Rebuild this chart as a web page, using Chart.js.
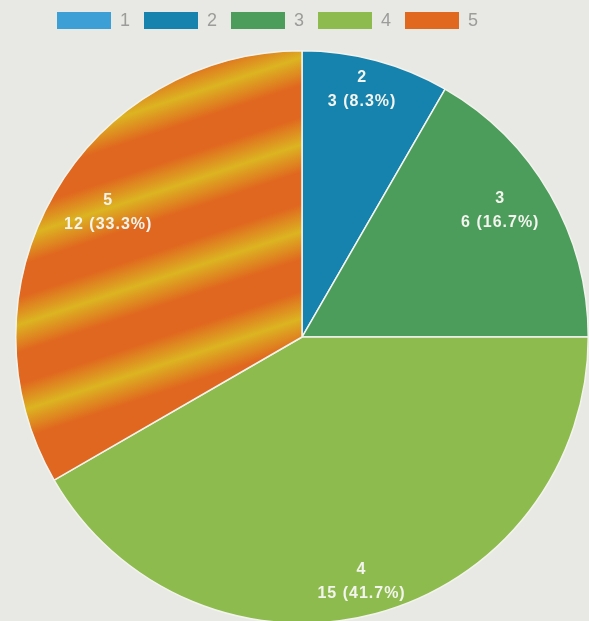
<!DOCTYPE html>
<html>
<head>
<meta charset="utf-8">
<title>Pie</title>
<script src="https://cdn.jsdelivr.net/npm/chart.js@4/dist/chart.umd.min.js"></script>
<style>
  html, body { margin: 0; padding: 0; background: #e8e8e4; overflow: hidden; }
  canvas { display: block; }
</style>
</head>
<body>
<canvas id="pie" width="589" height="630"></canvas>
<script>
const categories = ['1', '2', '3', '4', '5'];
const counts = [0, 3, 6, 15, 12];
const sliceColors = ['#3c9fd6', '#1583ae', '#4c9c5b', '#8dbb4d', '#e0691f'];

// orange slice gets soft yellow bands running up to the right
function streakFill(ctx) {
  const g = ctx.createLinearGradient(-52, 0, 155, 628);
  const n = 8, half = 0.32 / n;
  const orange = '#e0671f', yellow = '#dcb421';
  g.addColorStop(0, orange);
  for (let k = 2; k <= 5; k++) {
    const c = k / n;
    g.addColorStop(c - half, orange);
    g.addColorStop(c, yellow);
    g.addColorStop(c + half, orange);
  }
  g.addColorStop(1, orange);
  return g;
}

// two-line label inside each slice: name, then count (percent)
const sliceLabels = {
  id: 'sliceLabels',
  afterDatasetsDraw(chart) {
    const ctx = chart.ctx;
    const meta = chart.getDatasetMeta(0);
    const total = counts.reduce((a, b) => a + b, 0);
    const lineH = 24;
    ctx.save();
    ctx.font = 'bold 16px "Liberation Sans", Arial, sans-serif';
    ctx.letterSpacing = '1px';
    ctx.fillStyle = '#f4f4ef';
    ctx.textAlign = 'center';
    ctx.textBaseline = 'middle';
    meta.data.forEach((arc, i) => {
      const v = counts[i];
      if (!v) return;
      const p = arc.getProps(['x', 'y', 'startAngle', 'endAngle', 'outerRadius'], true);
      const mid = (p.startAngle + p.endAngle) / 2;
      const lines = [categories[i], v + ' (' + (v / total * 100).toFixed(1) + '%)'];
      const w = Math.max(...lines.map(t => ctx.measureText(t).width));
      const h = lineH * lines.length;
      // mid-angle direction, leaned a little toward the vertical axis
      let dx = Math.cos(mid) * 0.9, dy = Math.sin(mid);
      const len = Math.hypot(dx, dy);
      dx /= len; dy /= len;
      // pull the text block in from the rim by its extent along the ray
      const r = p.outerRadius - ((w / 2 + 7) * Math.abs(dx) + (h / 2 - 1) * Math.abs(dy));
      const cx = p.x + dx * r, cy = p.y + dy * r;
      lines.forEach((t, j) => ctx.fillText(t, cx + 0.5, cy + (j - (lines.length - 1) / 2) * lineH));
    });
    ctx.restore();
  }
};

// legend row across the top
const legendRow = {
  id: 'legendRow',
  afterDraw(chart) {
    const ctx = chart.ctx;
    ctx.save();
    ctx.font = '18px "Liberation Sans", Arial, sans-serif';
    ctx.textAlign = 'left';
    ctx.textBaseline = 'middle';
    categories.forEach((c, i) => {
      const x = 57 + i * 87;
      ctx.fillStyle = sliceColors[i];
      ctx.fillRect(x, 12, 54, 17);
      ctx.fillStyle = '#9c9c9a';
      ctx.fillText(c, x + 63, 21);
    });
    ctx.restore();
  }
};

new Chart(document.getElementById('pie'), {
  type: 'pie',
  data: {
    labels: categories,
    datasets: [{
      data: counts,
      backgroundColor: c => c.dataIndex === 4 ? streakFill(c.chart.ctx) : sliceColors[c.dataIndex],
      borderColor: '#f3f3ee',
      borderWidth: 1.5,
      hoverOffset: 0
    }]
  },
  options: {
    responsive: false,
    animation: false,
    events: [],
    layout: { padding: { left: 15, top: 50, right: 0, bottom: 6 } },
    plugins: {
      legend: { display: false },
      tooltip: { enabled: false }
    }
  },
  plugins: [sliceLabels, legendRow]
});
</script>
</body>
</html>
